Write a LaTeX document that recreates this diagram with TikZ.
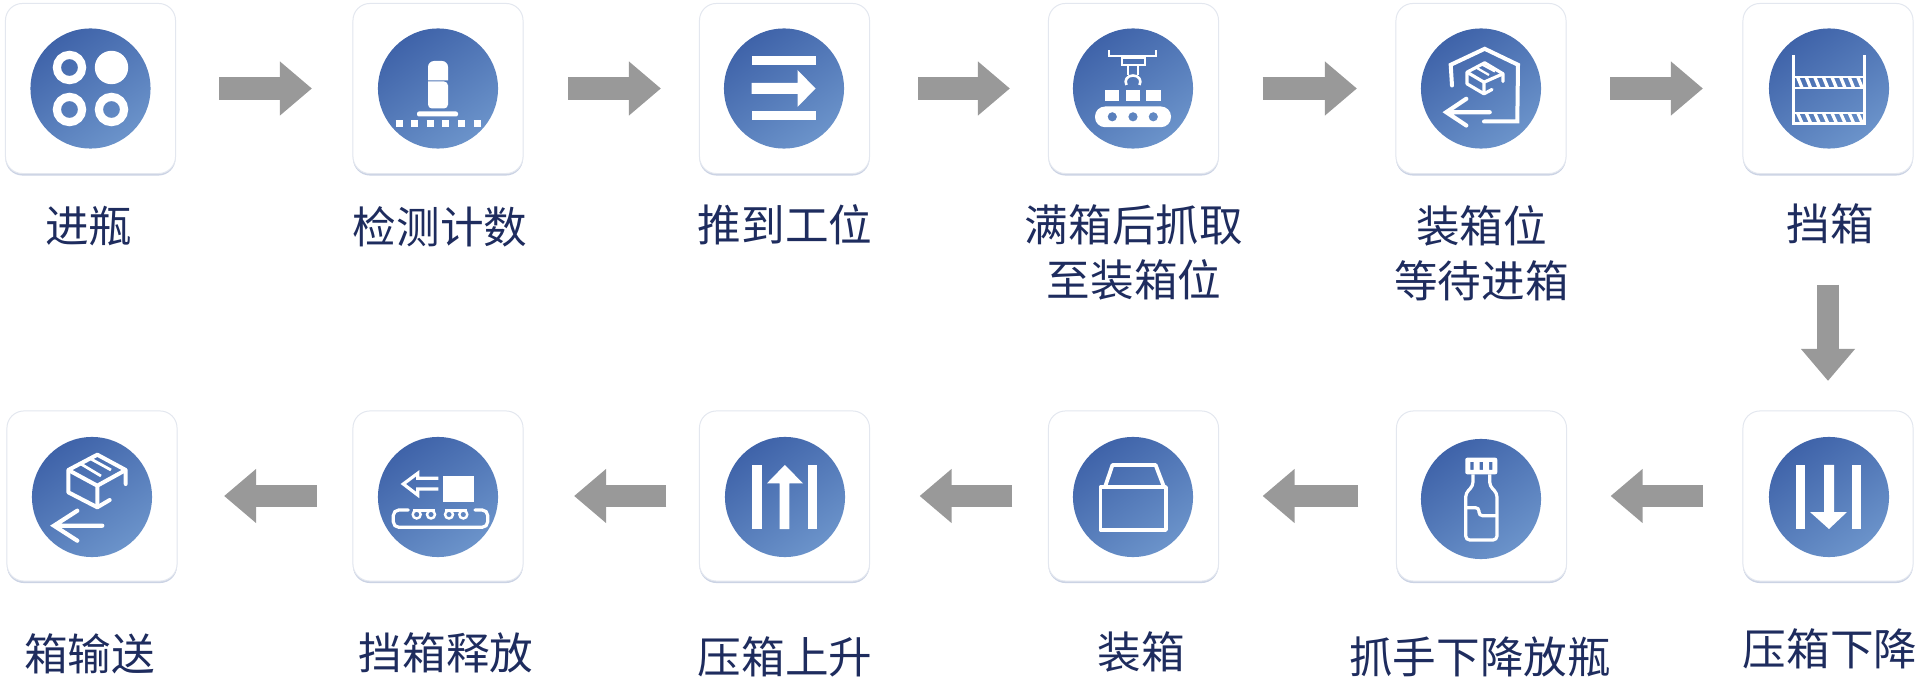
\documentclass[tikz,border=0pt]{standalone}
\usepackage{fontspec}
\setmainfont{Noto Sans CJK SC}
\usetikzlibrary{arrows.meta,shadows}
\definecolor{cardline}{HTML}{E3E7EF}
\definecolor{cardshadow}{HTML}{CBD3E4}
\definecolor{discdark}{HTML}{3F63A9}
\definecolor{disclight}{HTML}{6B93CA}
\definecolor{labelnavy}{HTML}{1E2C5E}
\definecolor{flowgray}{HTML}{999999}
\tikzset{
    card/.style={rectangle, draw=cardline, line width=.01cm, fill=white, rounded corners=.17cm, minimum size=1.7cm, inner sep=0pt, outer sep=0pt,
        drop shadow={shadow xshift=0cm, shadow yshift=-.02cm, fill=cardshadow, opacity=1}},
    disc/.style={circle, minimum size=1.2cm, inner sep=0pt, outer sep=0pt, top color=discdark, bottom color=disclight, shading angle=35},
    flowarrow/.style={draw=flowgray, line width=.22cm, -{Triangle[length=.32cm, width=.52cm]}},
    steplabel/.style={text=labelnavy, align=center, inner sep=0pt, font=\fontsize{12.4pt}{15.6pt}\selectfont},
    iconline/.style={draw=white, line width=.035cm},
    iconfill/.style={fill=white}
}
\begin{document}
\begin{tikzpicture}[x=.01cm, y=-.01cm]
    \useasboundingbox (0,0) rectangle (1920,679);

    % Karty
    \node[card] (s1) at (90.5,88.5) {};
    \node[card] (s2) at (438,88.5) {};
    \node[card] (s3) at (784.5,88.5) {};
    \node[card] (s4) at (1133.5,88.5) {};
    \node[card] (s5) at (1481,88.5) {};
    \node[card] (s6) at (1828,88.5) {};
    \node[card] (s7) at (1828,496) {};
    \node[card] (s8) at (1481.5,496) {};
    \node[card] (s9) at (1133.5,496) {};
    \node[card] (s10) at (784.5,496) {};
    \node[card] (s11) at (438,496) {};
    \node[card] (s12) at (92,496) {};

    % Kruhy
    \node[disc] (c1) at (90.5,88.5) {};
    \node[disc] (c2) at (438,88.5) {};
    \node[disc] (c3) at (784,88.5) {};
    \node[disc] (c4) at (1133,88.5) {};
    \node[disc] (c5) at (1481,88.5) {};
    \node[disc] (c6) at (1829,88.5) {};
    \node[disc] (c7) at (1829,497) {};
    \node[disc] (c8) at (1481,499) {};
    \node[disc] (c9) at (1133,497) {};
    \node[disc] (c10) at (785,497) {};
    \node[disc] (c11) at (438,497) {};
    \node[disc] (c12) at (92,497) {};

    % Popisky
    \node[steplabel] (t1) at (89,226) {进瓶};
    \node[steplabel] (t2) at (440,227) {检测计数};
    \node[steplabel] (t3) at (785,225) {推到工位};
    \node[steplabel] (t4) at (1134,252.5) {满箱后抓取\\至装箱位};
    \node[steplabel] (t5) at (1481.5,253.5) {装箱位\\等待进箱};
    \node[steplabel] (t6) at (1830,224) {挡箱};
    \node[steplabel] (t7) at (1830,649) {压箱下降};
    \node[steplabel] (t8) at (1480,657) {抓手下降放瓶};
    \node[steplabel] (t9) at (1141.5,652) {装箱};
    \node[steplabel] (t10) at (785,657) {压箱上升};
    \node[steplabel] (t11) at (446,653) {挡箱释放};
    \node[steplabel] (t12) at (89.5,654) {箱输送};

    % Sipky
    \draw[flowarrow, shorten <=.435cm, shorten >=.41cm] (s1) -- (s2);
    \draw[flowarrow, shorten <=.45cm, shorten >=.385cm] (s2) -- (s3);
    \draw[flowarrow, shorten <=.485cm, shorten >=.385cm] (s3) -- (s4);
    \draw[flowarrow, shorten <=.44cm, shorten >=.39cm] (s4) -- (s5);
    \draw[flowarrow, shorten <=.44cm, shorten >=.40cm] (s5) -- (s6);
    \draw[flowarrow, shorten <=1.11cm, shorten >=.30cm] (s6) -- (s7);
    \draw[flowarrow, shorten <=.40cm, shorten >=.44cm] (s7) -- (s8);
    \draw[flowarrow, shorten <=.38cm, shorten >=.44cm] (s8) -- (s9);
    \draw[flowarrow, shorten <=.36cm, shorten >=.50cm] (s9) -- (s10);
    \draw[flowarrow, shorten <=.33cm, shorten >=.51cm] (s10) -- (s11);
    \draw[flowarrow, shorten <=.36cm, shorten >=.47cm] (s11) -- (s12);

    % 1 lahve
    \begin{scope}[shift={(c1.center)}]
        \draw[iconline, line width=.082cm] (-21,-21) circle (12.6) (-21,21) circle (12.6) (21,21) circle (12.6);
        \fill[iconfill] (21,-21) circle (16.7);
    \end{scope}

    % 2 cidlo
    \begin{scope}[shift={(c2.center)}]
        \fill[iconfill, rounded corners=.06cm] (-10,-8) [sharp corners] -- (-10,-14) [rounded corners=.06cm] -- (-10,-27.5) -- (10,-27.5) [sharp corners] -- (10,-8) -- cycle;
        \fill[iconfill, rounded corners=.04cm] (-10,-7) -- (-10,20) -- (10,20) -- (10,-7) [sharp corners] -- cycle;
        \fill[iconfill, rounded corners=.02cm] (-21,23) rectangle (20,28);
        \draw[iconline, line width=.07cm, dash pattern=on .07cm off .086cm] (-42.5,35.5) -- (43,35.5);
    \end{scope}

    % 3 posun
    \begin{scope}[shift={(c3.center)}]
        \fill[iconfill] (-32.5,-32.5) rectangle (31.5,-23.5);
        \fill[iconfill] (-32.5,23) rectangle (31.5,32);
        \fill[iconfill] (-32.5,-5.5) -- (13.5,-5.5) -- (13.5,-18.5) -- (31.5,0) -- (13.5,18.5) -- (13.5,5.5) -- (-32.5,5.5) -- cycle;
    \end{scope}

    % 4 uchopovac
    \begin{scope}[shift={(c4.center)}]
        \draw[iconline, line width=.018cm] (-23.7,-38) -- (-23.7,-32.3) -- (23,-32.3) -- (23,-38);
        \draw[iconline, line width=.022cm] (-11.3,-30.7) rectangle (12,-23.7);
        \draw[iconline, line width=.022cm] (-4.7,-23) -- (-4.7,-13) (4.7,-23) -- (4.7,-13);
        \draw[iconline, line width=.026cm] (-6.5,-3.5) .. controls (-9,-8) and (-6,-13) .. (0,-13) .. controls (6,-13) and (9,-8) .. (6.5,-3.5);
        \fill[iconfill] (-28,2) rectangle (-13.7,13);
        \fill[iconfill] (-7.3,2) rectangle (7,13);
        \fill[iconfill] (13,2) rectangle (27.7,13);
        \fill[iconfill, even odd rule, rounded corners=.10cm] (-38,18) rectangle (38,38.7)
            [sharp corners] (-20.7,28.3) circle (4.7) (0,28.3) circle (4.7) (20.3,28.3) circle (4.7);
    \end{scope}

    % 5 sklad
    \begin{scope}[shift={(c5.center)}]
        \draw[iconline, line cap=round, line width=.04cm] (-29,-3) -- (-30.3,-23.7) -- (3.7,-39.7) -- (37,-23.7) -- (36.3,33) -- (3,33);
        \draw[iconline, line cap=round, line width=.042cm] (8.7,23.7) -- (-34.7,23.7) (-14.7,10.3) -- (-34.7,23.7) -- (-14.7,37);
        \draw[iconline, line cap=round, line join=round, line width=.032cm] (22,-7) -- (22,-14.7) -- (3.7,-25.7) -- (-14,-16.3) -- (-14,-4.7) -- (3,5.3) -- (11,1);
        \draw[iconline, line join=round, line width=.032cm] (-14,-16.3) -- (3,-6.3) -- (22,-14.7) (3,-6.3) -- (3,5.3);
        \draw[iconline, line join=round, line width=.022cm] (-5,-21) -- (8,-13.5) (1,-24) -- (14,-17);
    \end{scope}

    % 6 zabrana
    \begin{scope}[shift={(c6.center)}]
        \draw[iconline, line width=.032cm] (-35.7,-33) -- (-35.7,35) -- (35.3,35) -- (35.3,-33);
        \draw[iconline, line width=.02cm] (-35.7,-11) -- (35.3,-11) (-35.7,0) -- (35.3,0) (-35.7,25) -- (35.3,25);
        \foreach \sx in {-33,-24.4,...,30} {
            \fill[iconfill] (\sx,-11) -- (\sx+3.5,-11) -- (\sx+8,0) -- (\sx+4.5,0) -- cycle;
            \fill[iconfill] (\sx,25) -- (\sx+3.5,25) -- (\sx+8,35) -- (\sx+4.5,35) -- cycle;
        }
    \end{scope}

    % 7 dolu
    \begin{scope}[shift={(c7.center)}]
        \fill[iconfill] (-33,-32) rectangle (-23.6,32);
        \fill[iconfill] (22.7,-32) rectangle (32,32);
        \fill[iconfill] (-5,-32) -- (5,-32) -- (5,15) -- (18,15) -- (0,32) -- (-19,15) -- (-5,15) -- cycle;
    \end{scope}

    % 8 lahev
    \begin{scope}[shift={(c8.center)}]
        \fill[iconfill, even odd rule, rounded corners=.02cm] (-15.7,-41.3) rectangle (16.3,-24.7)
            [sharp corners] (-10.7,-37) rectangle (-7.3,-29) (-1.3,-37) rectangle (2,-29) (8,-37) rectangle (11.3,-29);
        \draw[iconline, line width=.032cm, rounded corners=.04cm] (-8,-24.7) -- (-8,-13) -- (-15.3,-6) -- (-15.3,41) -- (16,41) -- (16,-6) -- (8.7,-13) -- (8.7,-24.7);
        \draw[iconline, line width=.032cm, rounded corners=.035cm] (-15,8.7) -- (-2,8.7) -- (-2,16.7) -- (16,16.7);
    \end{scope}

    % 9 krabice
    \begin{scope}[shift={(c9.center)}]
        \draw[iconline, line width=.038cm, line join=round] (-28,-10) -- (-20.5,-32) -- (22.6,-32) -- (31,-10);
        \draw[iconline, line width=.038cm, line join=round] (-32.5,-10) rectangle (33,33);
    \end{scope}

    % 10 nahoru
    \begin{scope}[shift={(c10.center)}]
        \fill[iconfill] (-32.6,-32) rectangle (-23,32);
        \fill[iconfill] (22.5,-32) rectangle (32.2,32);
        \fill[iconfill] (-5.3,32) -- (4.4,32) -- (4.4,-13.7) -- (18,-13.7) -- (-.2,-32) -- (-18,-13.7) -- (-5.3,-13.7) -- cycle;
    \end{scope}

    % 11 pas
    \begin{scope}[shift={(c11.center)}]
        \fill[iconfill] (5.3,-21.3) rectangle (36,5.3);
        \draw[iconline, line width=.032cm] (.3,-18.7) -- (-20.3,-18.7) -- (-20.3,-23.7) -- (-34.7,-13) -- (-20.3,-2) -- (-20.3,-8) -- (.3,-8);
        \draw[iconline, line cap=round, line width=.032cm, rounded corners=.055cm] (-29.7,13) -- (-44.7,13) -- (-44.7,30.3) -- (49.7,30.3) -- (49.7,13) -- (37,13);
        \draw[iconline, line width=.024cm] (-21.3,17.5) circle (4) (-7,17.5) circle (4) (11,17.5) circle (4) (25.3,17.5) circle (4);
        \draw[iconline, line width=.024cm] (-25,13.5) -- (-3,13.5) (7,13.5) -- (29,13.5);
    \end{scope}

    % 12 odvoz
    \begin{scope}[shift={(c12.center)}]
        \draw[iconline, line cap=round, line join=round, line width=.04cm] (33.7,-13) -- (33.7,-27) -- (5.3,-42.3) -- (-23.7,-27) -- (-23.7,-4.7) -- (5.3,10.3) -- (17.7,3);
        \draw[iconline, line join=round, line width=.04cm] (-23.7,-27) -- (5.3,-11.3) -- (33.7,-27) (5.3,-11.3) -- (5.3,10.3);
        \draw[iconline, line join=round, line width=.028cm] (-11,-33) -- (9,-21) (-1,-38) -- (19,-27);
        \draw[iconline, line cap=round, line width=.042cm] (10.3,28.7) -- (-38,28.7) (-14.7,13.7) -- (-38,28.7) -- (-14.7,43.7);
    \end{scope}
\end{tikzpicture}
\end{document}
